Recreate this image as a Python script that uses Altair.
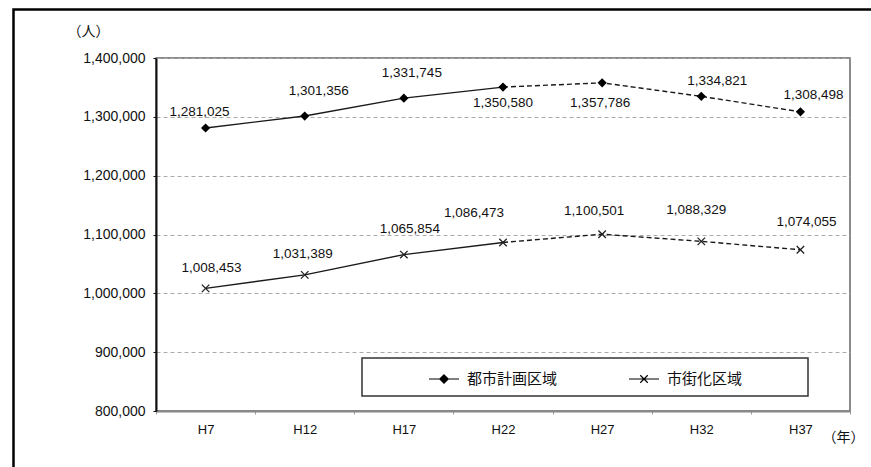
import altair as alt
import pandas as pd

# ---- data ----
years = ["H7", "H12", "H17", "H22", "H27", "H32", "H37"]
series_names = ["都市計画区域", "市街化区域"]
toshi_keikaku = [1281025, 1301356, 1331745, 1350580, 1357786, 1334821, 1308498]
shigaika = [1008453, 1031389, 1065854, 1086473, 1100501, 1088329, 1074055]
last_actual_index = 3  # H22: actual up to here, projection afterwards

# ---- label placement (pixel offsets from each point) ----
toshi_dx = [-6, 14, 8, 0, -2, 16, 13]
toshi_dy = [-16, -25, -25, 16, 20, -15, -17]
shigai_dx = [6, -2, 6, -29, -8, -5, 6]
shigai_dy = [-20, -21, -26, -29, -23, -31, -28]

Y_MIN, Y_MAX = 800000, 1400000
W, H = 694, 353
PAD_L, PAD_T = 156, 58

rows = []
for i, yr in enumerate(years):
    rows.append(dict(year=yr, idx=i, series=series_names[0], value=toshi_keikaku[i],
                     dx=toshi_dx[i], dy=toshi_dy[i]))
    rows.append(dict(year=yr, idx=i, series=series_names[1], value=shigaika[i],
                     dx=shigai_dx[i], dy=shigai_dy[i]))
df = pd.DataFrame(rows)

NUM_FONT = "Liberation Sans"
JP_FONT = "Noto Sans CJK JP"

x_axis = alt.Axis(
    title="（年）", titleX=687, titleY=26, titleAngle=0, titleAlign="center",
    titleBaseline="middle", titleFont=JP_FONT, titleFontSize=14,
    titleFontWeight="normal", titleColor="#111",
    labelAngle=0, labelFont=NUM_FONT, labelFontSize=13, labelColor="#111",
    labelPadding=9, tickBand="extent", tickSize=3, tickColor="#999",
    domainColor="#888", domainWidth=2, grid=False,
)
x_scale = alt.Scale(type="band", paddingInner=0, paddingOuter=0)
x_enc = alt.X("year:N", sort=years, scale=x_scale, axis=x_axis)

y_scale = alt.Scale(domain=[Y_MIN, Y_MAX], nice=False, zero=False)
y_enc = alt.Y(
    "value:Q", scale=y_scale,
    axis=alt.Axis(
        values=[800000, 900000, 1000000, 1100000, 1200000, 1300000, 1400000],
        format=",d", title="（人）", titleAngle=0, titleX=-68, titleY=-27,
        titleAlign="center", titleBaseline="middle", titleFont=JP_FONT,
        titleFontSize=14, titleFontWeight="normal", titleColor="#111",
        labelFont=NUM_FONT, labelFontSize=14, labelColor="#111", labelPadding=8,
        grid=True, gridDash=[4, 3], gridColor="#aaa", gridWidth=1,
        domainColor="#111", domainWidth=2, tickSize=3, tickColor="#111",
    ),
)

base = alt.Chart(df)

solid = base.transform_filter(f"datum.idx <= {last_actual_index}").mark_line(
    color="#1a1a1a", strokeWidth=1.4
).encode(x=x_enc, y=y_enc, detail="series:N")

dashed = base.transform_filter(f"datum.idx >= {last_actual_index}").mark_line(
    color="#1a1a1a", strokeWidth=1.4, strokeDash=[5, 3]
).encode(x=x_enc, y=y_enc, detail="series:N")

CROSS = "M-1,-1L1,1M-1,1L1,-1"

diamonds = base.transform_filter(alt.datum.series == series_names[0]).mark_point(
    shape="diamond", filled=True, color="black", size=85, opacity=1
).encode(x=x_enc, y=y_enc)

crosses = base.transform_filter(alt.datum.series == series_names[1]).mark_point(
    shape=CROSS, filled=False, color="#222", strokeWidth=1.3, size=56, opacity=1
).encode(x=x_enc, y=y_enc)

units_per_px = (Y_MAX - Y_MIN) / H
half_band = W / len(years) / 2
labels = base.transform_calculate(
    label_pos=f"datum.value - datum.dy * {units_per_px}",
    label_dx=f"datum.dx + {half_band}",
).mark_text(
    font=NUM_FONT, fontSize=13.5, color="#111", align="center", baseline="middle"
).encode(
    x=alt.X("year:N", sort=years, scale=x_scale, axis=x_axis),
    y=alt.Y("label_pos:Q", scale=y_scale),
    xOffset=alt.XOffset("label_dx:Q", scale=None),
    text=alt.Text("value:Q", format=",d"),
)

# legend built from an invisible layer with line+marker symbols
LEG_DIAMOND = ("M-1,0L1,0"
               "M0,-0.28L0.28,0L0,0.28L-0.28,0Z"
               "M0,-0.21L0.21,0L0,0.21L-0.21,0Z"
               "M0,-0.14L0.14,0L0,0.14L-0.14,0Z"
               "M0,-0.07L0.07,0L0,0.07L-0.07,0Z")
LEG_CROSS = "M-1,0L1,0M-0.25,-0.25L0.25,0.25M-0.25,0.25L0.25,-0.25"
legend_df = pd.DataFrame({"legend_series": series_names})
legend_layer = alt.Chart(legend_df).mark_point(
    filled=False, stroke="black", strokeWidth=1.2, opacity=0
).encode(
    shape=alt.Shape(
        "legend_series:N",
        sort=series_names,
        scale=alt.Scale(domain=series_names, range=[LEG_DIAMOND, LEG_CROSS]),
        legend=alt.Legend(
            title=None, orient="none", legendX=272, legendY=305,
            direction="horizontal", symbolSize=900, symbolOpacity=1,
            symbolStrokeWidth=1.2, symbolStrokeColor="black",
            labelFont=JP_FONT, labelFontSize=15,
            labelColor="#111", labelOffset=7, columnPadding=68, padding=0,
        ),
    )
)

one = pd.DataFrame({"k": [0]})
legend_box = alt.Chart(one).mark_rect(
    fillOpacity=0, stroke="#333", strokeWidth=1.5
).encode(
    x=alt.value(206), x2=alt.value(652), y=alt.value(300), y2=alt.value(338)
)

outer_frame = alt.Chart(one).mark_rect(
    fillOpacity=0, stroke="black", strokeWidth=2.5
).encode(
    x=alt.value(13.5 - PAD_L), x2=alt.value(W + 60),
    y=alt.value(9.5 - PAD_T), y2=alt.value(H + 80)
)

chart = alt.layer(
    outer_frame, solid, dashed, diamonds, crosses, labels, legend_box, legend_layer
).resolve_scale(shape="independent").properties(
    width=W, height=H,
    autosize=alt.AutoSizeParams(type="none"),
    padding={"left": PAD_L, "top": PAD_T, "right": 871 - PAD_L - W, "bottom": 467 - PAD_T - H},
    background="white",
).configure_view(stroke="#666", strokeWidth=1.5)

chart.save("out.html", embed_options={"renderer": "svg", "actions": False})
